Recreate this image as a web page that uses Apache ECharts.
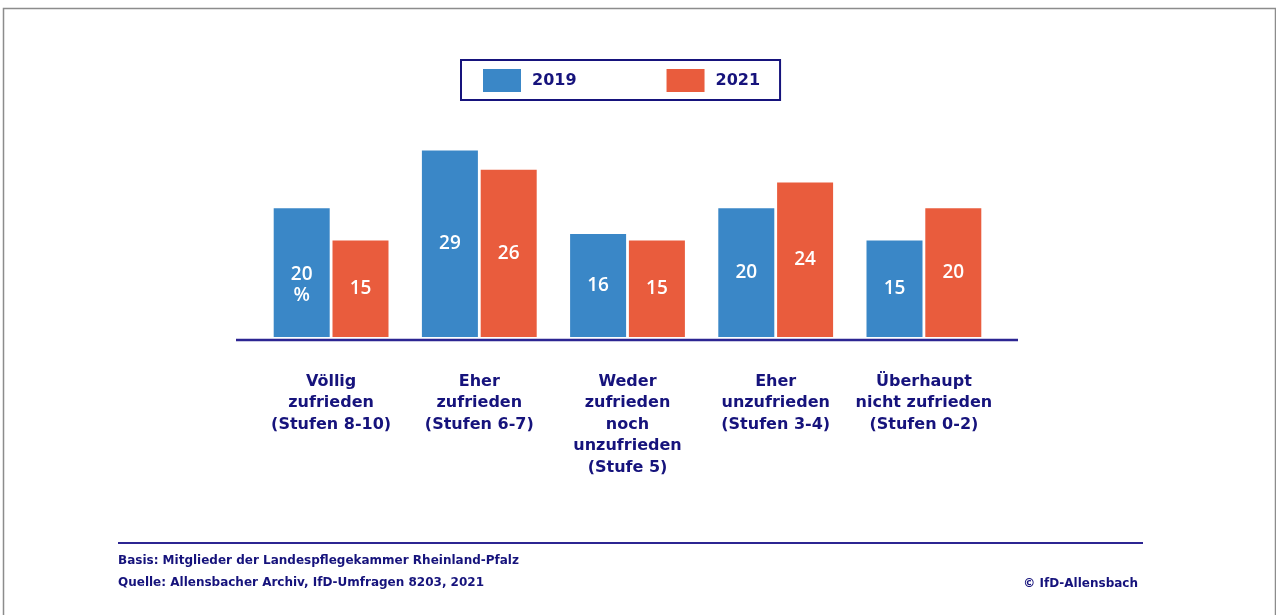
<!DOCTYPE html>
<html>
<head>
<meta charset="utf-8">
<script src="https://cdn.jsdelivr.net/npm/echarts@6/dist/echarts.min.js"></script>
<style>
html,body{margin:0;padding:0;background:#fff;}
#chart{width:1276px;height:615px;}
</style>
</head>
<body>
<div id="chart"></div>
<script>
const categories = [
  'Völlig\nzufrieden\n(Stufen 8-10)',
  'Eher\nzufrieden\n(Stufen 6-7)',
  'Weder\nzufrieden\nnoch\nunzufrieden\n(Stufe 5)',
  'Eher\nunzufrieden\n(Stufen 3-4)',
  'Überhaupt\nnicht zufrieden\n(Stufen 0-2)'
];
const seriesNames = ['2019', '2021'];
const values2019 = [20, 29, 16, 20, 15];
const values2021 = [15, 26, 15, 24, 20];
const footerBasis = 'Basis: Mitglieder der Landespflegekammer Rheinland-Pfalz';
const footerSource = 'Quelle: Allensbacher Archiv, IfD-Umfragen 8203, 2021';
const footerCopyright = '© IfD-Allensbach';

const NAVY = '#16137c';
const BLUE = '#3a87c7';
const RED = '#e95c3d';

const chart = echarts.init(document.getElementById('chart'));

const labelStyle = {
  show: true,
  position: 'inside',
  color: '#ffffff',
  fontFamily: 'Open Sans',
  fontWeight: 600,
  fontSize: 19,
  lineHeight: 21
};

chart.setOption({
  animation: false,
  backgroundColor: '#ffffff',
  legend: {
    left: 461,
    top: 60,
    padding: [9, 20, 8, 22],
    borderColor: NAVY,
    borderWidth: 2,
    itemWidth: 38,
    itemHeight: 23,
    itemGap: 90,
    icon: 'rect',
    textStyle: {color: NAVY, fontFamily: 'DejaVu Sans', fontWeight: 'bold', fontSize: 16, padding: [0, 0, 0, 6]},
    data: seriesNames
  },
  grid: {left: 257, right: 278, top: 144, bottom: 278},
  xAxis: {
    type: 'category',
    data: categories,
    axisLine: {show: false},
    axisTick: {show: false},
    axisLabel: {
      color: NAVY,
      fontFamily: 'DejaVu Sans',
      fontWeight: 'bold',
      fontSize: 16,
      lineHeight: 21.5,
      margin: 34,
      interval: 0
    }
  },
  yAxis: {
    type: 'value',
    min: 0,
    max: 30,
    show: false,
    splitLine: {show: false}
  },
  series: [
    {
      name: seriesNames[0],
      type: 'bar',
      data: values2019.map((v, i) => i === 0 ? {value: v, label: {offset: [0, 12]}} : v),
      barWidth: 56,
      barGap: '5%',
      itemStyle: {color: BLUE},
      label: Object.assign({}, labelStyle, {
        formatter: p => p.dataIndex === 0 ? p.value + '\n%' : String(p.value)
      })
    },
    {
      name: seriesNames[1],
      type: 'bar',
      data: values2021,
      barWidth: 56,
      barGap: '5%',
      itemStyle: {color: RED},
      label: labelStyle
    }
  ],
  graphic: [
    {type: 'rect', left: 1, top: 6, shape: {width: 1272, height: 700}, style: {fill: 'none', stroke: '#8c8c8c', lineWidth: 1.5}, silent: true},
    {type: 'line', shape: {x1: 236, y1: 340, x2: 1018, y2: 340}, style: {stroke: '#2c2592', lineWidth: 2.5}},
    {type: 'line', shape: {x1: 118, y1: 543, x2: 1143, y2: 543}, style: {stroke: '#2c2592', lineWidth: 2}},
    {type: 'text', left: 118, top: 555, style: {text: footerBasis, fill: NAVY, font: 'bold 12px "DejaVu Sans"'}},
    {type: 'text', left: 118, top: 577, style: {text: footerSource, fill: NAVY, font: 'bold 12px "DejaVu Sans"'}},
    {type: 'text', right: 138, top: 578, style: {text: footerCopyright, fill: NAVY, font: 'bold 12px "DejaVu Sans"'}}
  ]
});
</script>
</body>
</html>
